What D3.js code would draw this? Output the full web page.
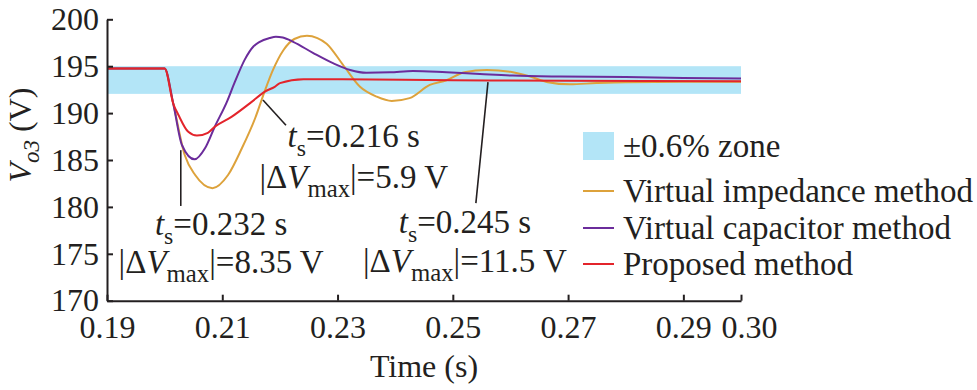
<!DOCTYPE html>
<html><head><meta charset="utf-8">
<script src="https://cdn.jsdelivr.net/npm/d3@7"></script>
<style>
html,body{margin:0;padding:0;background:#fff;}
svg text{font-family:'Liberation Serif','Times New Roman',Times,'DejaVu Serif',serif !important;fill:#231f20;}
</style></head>
<body><svg id="chart" width="977" height="390"></svg>
<script>
// ---------- data ----------
const xTicks = [0.19, 0.21, 0.23, 0.25, 0.27, 0.29, 0.30];
const yTicks = [170, 175, 180, 185, 190, 195, 200];
const zoneLow = 192.05, zoneHigh = 195.0;

const tImpedance = [0.19,0.2,0.2015,0.2035,0.2053,0.2083,0.2110,0.2134,0.2157,0.2174,0.2188,0.2206,0.2225,0.2247,0.2265,0.2281,0.2310,0.2339,0.2368,0.2394,0.2425,0.2460,0.2489,0.2520,0.2559,0.2600,0.2634,0.2665,0.2703,0.2749,0.2800,0.2900,0.3000];
const vImpedance = [194.75,194.75,191.0,185.5,183.4,182.0,183.4,186.25,189.45,192.4,194.6,196.7,197.9,198.25,198.0,197.4,195.1,192.8,191.75,191.3,191.6,193.0,193.5,194.35,194.6,194.4,193.9,193.3,193.07,193.2,193.3,193.35,193.35];

const tCapacitor = [0.19,0.2,0.2015,0.2030,0.2052,0.2070,0.2087,0.2108,0.2122,0.2139,0.2154,0.2165,0.2182,0.2193,0.2205,0.2223,0.2258,0.2293,0.2322,0.2350,0.2391,0.2431,0.2489,0.2547,0.2604,0.2686,0.2800,0.2900,0.3000];
const vCapacitor = [194.75,194.75,191.0,186.6,185.07,186.25,188.55,191.2,193.35,195.7,197.1,197.6,198.0,198.15,198.05,197.6,196.4,195.3,194.6,194.3,194.35,194.5,194.35,194.17,194.0,193.9,193.85,193.75,193.7];

const tProposed = [0.19,0.2,0.2015,0.2024,0.2041,0.2056,0.2075,0.2087,0.2116,0.2151,0.2174,0.2191,0.2200,0.2241,0.2300,0.2500,0.2700,0.3000];
const vProposed = [194.75,194.75,191.0,189.8,188.0,187.6,187.9,188.55,189.6,191.2,192.3,192.8,193.2,193.6,193.6,193.5,193.45,193.4];

const seriesNames = ["Virtual impedance method","Virtual capacitor method","Proposed method"];
const seriesColors = ["#dda23b","#6b2c9b","#e3242b"];
const zoneLabel = "\u00b10.6% zone";
const zoneColor = "#b3e5f7";

// annotations (data units)
const annT0 = [0.2028, 0.21706, 0.2561];
const annV0 = [186.05, 191.4, 193.3];
const annT1 = [0.2028, 0.22105, 0.2540];
const annV1 = [180.1, 188.7, 180.4];
const annTextT = [0.2098, 0.2328, 0.2521];
const annTextV1 = [177.0, 186.4, 177.2];
const annTextV2 = [172.95, 182.0, 173.05];
const annTs = ["0.232", "0.216", "0.245"];
const annDv = ["8.35", "5.9", "11.5"];

// ---------- drawing ----------
const FONT = "'Liberation Serif','Times New Roman',Times,'DejaVu Serif',serif";
const svg = d3.select("#chart").style("font-family", FONT);
const x = d3.scaleLinear().domain([0.19, 0.30]).range([107, 741]);
const y = d3.scaleLinear().domain([170, 200]).range([300.7, 19.3]);
const FS = 32;

svg.append("rect")
  .attr("x", x(0.19)).attr("y", y(zoneHigh))
  .attr("width", x(0.30) - x(0.19)).attr("height", y(zoneLow) - y(zoneHigh))
  .attr("fill", zoneColor);

const series = [
  tImpedance.map((t,i)=>[t,vImpedance[i]]),
  tCapacitor.map((t,i)=>[t,vCapacitor[i]]),
  tProposed.map((t,i)=>[t,vProposed[i]])
];
const line = d3.line().x(d=>x(d[0])).y(d=>y(d[1])).curve(d3.curveMonotoneX);
series.forEach((s,i)=>{
  svg.append("path").datum(s).attr("d", line)
    .attr("fill","none").attr("stroke", seriesColors[i]).attr("stroke-width", 2);
});

const xAxis = d3.axisBottom(x).tickValues(xTicks).tickFormat(d3.format(".2f"))
  .tickSizeInner(-6).tickSizeOuter(0).tickPadding(15);
const yAxis = d3.axisLeft(y).tickValues(yTicks).tickFormat(d3.format("d"))
  .tickSizeInner(-6).tickSizeOuter(0).tickPadding(8);

const gx = svg.append("g").attr("transform", `translate(0,${y(170)})`).call(xAxis);
const gy = svg.append("g").attr("transform", `translate(${x(0.19)},0)`).call(yAxis);
[gx, gy].forEach(g=>{
  g.attr("font-family", FONT).attr("font-size", FS);
  g.select(".domain").attr("stroke","#231f20").attr("stroke-width",2);
  g.selectAll(".tick line").attr("stroke","#231f20").attr("stroke-width",2);
  g.selectAll(".tick text").attr("font-size", FS).attr("font-family", FONT).attr("fill","#231f20");
});
// last x label nudged right so it does not touch 0.29
gx.selectAll(".tick text").filter(d => d === 0.30).attr("dx", 8);

svg.append("text").attr("x", (x(0.19)+x(0.30))/2).attr("y", 377)
  .attr("text-anchor","middle").attr("font-size", FS).text("Time (s)");

const yt = svg.append("text").attr("transform","translate(31,135) rotate(-90)")
  .attr("text-anchor","middle").attr("font-size", FS);
yt.append("tspan").attr("font-style","italic").text("V");
yt.append("tspan").attr("font-style","italic").attr("font-size", FS*0.72).attr("dy", FS*0.25).text("o3");
yt.append("tspan").attr("dy", -FS*0.25).text(" (V)");

const AFS = 33;
annTs.forEach((ts,i)=>{
  svg.append("line")
    .attr("x1", x(annT0[i])).attr("y1", y(annV0[i]))
    .attr("x2", x(annT1[i])).attr("y2", y(annV1[i]))
    .attr("stroke","#231f20").attr("stroke-width",1.6);
  const t1 = svg.append("text").attr("x", x(annTextT[i])).attr("y", y(annTextV1[i]))
    .attr("text-anchor","middle").attr("font-size", AFS);
  t1.append("tspan").attr("font-style","italic").text("t");
  t1.append("tspan").attr("font-size", AFS*0.72).attr("dy", AFS*0.28).text("s");
  t1.append("tspan").attr("dy", -AFS*0.28).text("=" + ts + " s");
  const t2 = svg.append("text").attr("x", x(annTextT[i])).attr("y", y(annTextV2[i]))
    .attr("text-anchor","middle").attr("font-size", AFS);
  t2.append("tspan").text("|\u0394");
  t2.append("tspan").attr("font-style","italic").text("V");
  t2.append("tspan").attr("font-size", AFS*0.75).attr("dy", AFS*0.28).text("max");
  t2.append("tspan").attr("dy", -AFS*0.28).text("|=" + annDv[i] + " V");
});

const LFS = 33;
const lg = svg.append("g");
lg.append("rect").attr("x",583).attr("y",132).attr("width",31).attr("height",28).attr("fill",zoneColor);
lg.append("text").attr("x",623).attr("y",157).attr("font-size",LFS).text(zoneLabel);
const rowY = [191, 228, 264];
seriesNames.forEach((n,i)=>{
  lg.append("line").attr("x1",583).attr("x2",614).attr("y1",rowY[i]).attr("y2",rowY[i])
    .attr("stroke",seriesColors[i]).attr("stroke-width",2);
  lg.append("text").attr("x",623).attr("y",rowY[i]+11).attr("font-size",LFS).text(n);
});
</script></body></html>
